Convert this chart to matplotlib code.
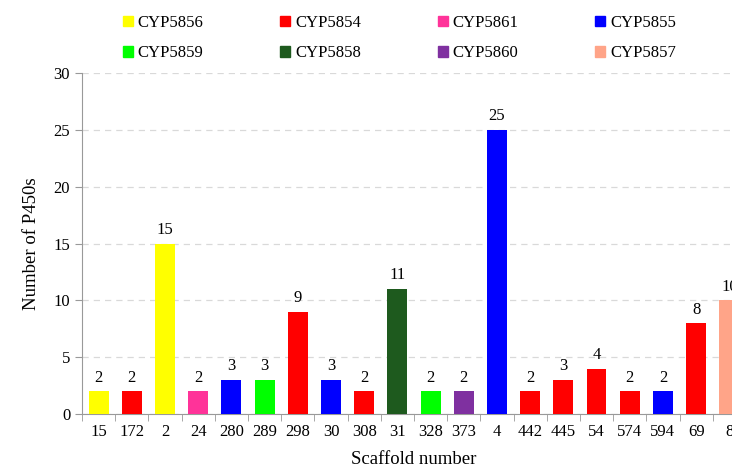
import numpy as np
import matplotlib
matplotlib.use('Agg')
import matplotlib.pyplot as plt
from matplotlib.patches import Patch

plt.rcParams['font.family'] = ['Liberation Serif', 'DejaVu Serif']

scaffolds = ['15', '172', '2', '24', '280', '289', '298', '30', '308', '31',
             '328', '373', '4', '442', '445', '54', '574', '594', '69', '8']
counts = [2, 2, 15, 2, 3, 3, 9, 3, 2, 11, 2, 2, 25, 2, 3, 4, 2, 2, 8, 10]
families = ['CYP5856', 'CYP5854', 'CYP5856', 'CYP5861', 'CYP5855', 'CYP5859',
            'CYP5854', 'CYP5855', 'CYP5854', 'CYP5858', 'CYP5859', 'CYP5860',
            'CYP5855', 'CYP5854', 'CYP5854', 'CYP5854', 'CYP5854', 'CYP5855',
            'CYP5854', 'CYP5857']

# legend fills column by column, so this gives two rows of
# 5856 5854 5861 5855 / 5859 5858 5860 5857
legend_order = ['CYP5856', 'CYP5859', 'CYP5854', 'CYP5858',
                'CYP5861', 'CYP5860', 'CYP5855', 'CYP5857']
family_colors = {
    'CYP5856': '#FFFF00',
    'CYP5854': '#FF0000',
    'CYP5861': '#FF3399',
    'CYP5855': '#0000FF',
    'CYP5859': '#00FF00',
    'CYP5858': '#1E5A1E',
    'CYP5860': '#7F30A0',
    'CYP5857': '#FFA488',
}

fig = plt.figure(figsize=(7.32, 4.68), dpi=100)
ax = fig.add_axes([0.112, 0.115, 0.907, 0.729])

x = np.arange(len(scaffolds))
bars = ax.bar(x, counts, 0.6, color=[family_colors[f] for f in families],
              zorder=3)
for xi, c in zip(x, counts):
    ax.text(xi, c + 0.5, str(c), ha='center', va='bottom', fontsize=12)

ax.set_xlim(-0.5, len(scaffolds) - 0.5)
ax.set_ylim(0, 30)
ax.set_yticks(range(0, 31, 5))
ax.set_xticks(x)
ax.set_xticklabels(scaffolds, fontsize=12)
ax.set_xticks(np.arange(-0.5, len(scaffolds), 1), minor=True)
ax.tick_params(axis='x', which='major', length=0, pad=7)
ax.tick_params(axis='x', which='minor', length=5, color='#999999')
ax.tick_params(axis='y', labelsize=12, length=5, color='#999999')

ax.yaxis.grid(True, linestyle=(0, (5, 4)), color='#d9d9d9', linewidth=0.9, zorder=0)
for s in ['top', 'right']:
    ax.spines[s].set_visible(False)
for s in ['left', 'bottom']:
    ax.spines[s].set_color('#999999')

ax.set_xlabel('Scaffold number', fontsize=13.5, labelpad=8)
ax.set_ylabel('Number of P450s', fontsize=13.5, labelpad=10)

handles = [Patch(color=family_colors[f], label=f) for f in legend_order]
fig.legend(handles=handles, ncol=4, loc='upper left', bbox_to_anchor=(0.147, 1.0),
           frameon=False, fontsize=12, handlelength=0.6, handleheight=0.6,
           handletextpad=0.3, columnspacing=4.6, labelspacing=0.85)

fig.savefig('out.png', dpi=100)
